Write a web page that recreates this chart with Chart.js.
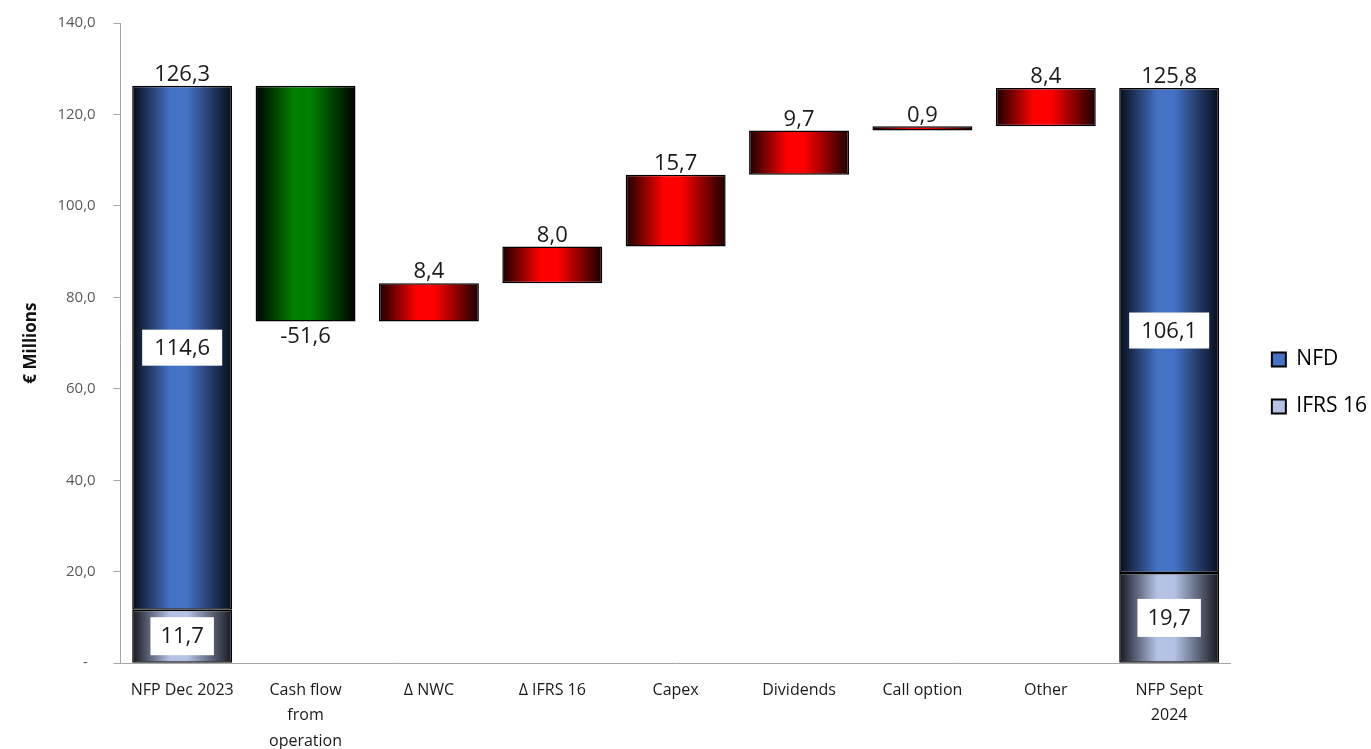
<!DOCTYPE html>
<html>
<head>
<meta charset="utf-8">
<title>NFP bridge</title>
<script src="https://cdn.jsdelivr.net/npm/chart.js@4.4.1/dist/chart.umd.min.js"></script>
<style>
  html, body { margin: 0; padding: 0; background: #fff; }
  #wrap { width: 1371px; height: 749px; position: relative; }
</style>
</head>
<body>
<div id="wrap"><canvas id="bridge"></canvas></div>
<script>
// categories on the x axis (arrays = multi-line labels)
const categories = [
  'NFP Dec 2023',
  ['Cash flow', 'from', 'operation'],
  'Δ NWC',
  'Δ IFRS 16',
  'Capex',
  'Dividends',
  'Call option',
  'Other',
  ['NFP Sept', '2024']
];

// opening / closing position split
const nfdValues  = [114.6, null, null, null, null, null, null, null, 106.1];
const ifrsValues = [11.7,  null, null, null, null, null, null, null, 19.7];

// movements between the two positions
const movements = [null, -51.6, 8.4, 8.0, 15.7, 9.7, 0.9, 8.4, null];

const FONT = "'Open Sans', 'Liberation Sans', sans-serif";
const BAR_PCT = 0.81;
const LEGEND_GAP = 15;
const LEGEND_TRIM = 6;
const LEGEND_RAISE = 5;

function fmt(v) {
  return v.toFixed(1).replace('.', ',');
}

// running total -> floating bars for the waterfall
let running = 0;
const steps = categories.map(function (c, i) {
  if (nfdValues[i] !== null) {
    running = nfdValues[i] + ifrsValues[i];
    return null;
  }
  const start = running;
  running = Math.round((running + movements[i]) * 10) / 10;
  return [start, running];
});

// horizontal "cylinder" gradient across one bar
function barGradient(ctx, edge, mid) {
  const chart = ctx.chart;
  const xs = chart.scales && chart.scales.x;
  if (!xs || ctx.type !== 'data') return mid;
  const cx = xs.getPixelForValue(ctx.dataIndex);
  const w = xs.width / categories.length * BAR_PCT;
  const g = chart.ctx.createLinearGradient(cx - w / 2, 0, cx + w / 2, 0);
  g.addColorStop(0, edge);
  g.addColorStop(0.38, mid);
  g.addColorStop(0.55, mid);
  g.addColorStop(1, edge);
  return g;
}

// value labels: totals above, white boxes inside, deltas above/below
const valueLabels = {
  id: 'valueLabels',
  afterDatasetsDraw(chart) {
    const c = chart.ctx;
    c.save();
    c.font = '22px ' + FONT;
    c.textAlign = 'center';
    c.fillStyle = '#1a1a1a';

    const nfdMeta = chart.getDatasetMeta(0);
    const ifrsMeta = chart.getDatasetMeta(1);
    const stepMeta = chart.getDatasetMeta(2);

    function boxed(text, x, y, padX, h) {
      const w = c.measureText(text).width + padX * 2;
      c.fillStyle = '#ffffff';
      c.fillRect(x - w / 2, y - h / 2, w, h);
      c.fillStyle = '#1a1a1a';
      c.textBaseline = 'middle';
      c.fillText(text, x, y + 1);
    }

    categories.forEach(function (cat, i) {
      if (nfdValues[i] !== null) {
        const top = nfdMeta.data[i];
        const low = ifrsMeta.data[i];
        c.textBaseline = 'bottom';
        c.fillText(fmt(nfdValues[i] + ifrsValues[i]), top.x, top.y);
        boxed(fmt(nfdValues[i]), top.x, (top.y + top.base) / 2, 12, 36);
        boxed(fmt(ifrsValues[i]), low.x, (low.y + low.base) / 2, 10, 38);
      } else {
        const el = stepMeta.data[i];
        const hi = Math.min(el.y, el.base);
        const lo = Math.max(el.y, el.base);
        if (movements[i] < 0) {
          c.textBaseline = 'top';
          c.fillText(fmt(movements[i]), el.x, lo + 4);
        } else {
          c.textBaseline = 'bottom';
          c.fillText(fmt(movements[i]), el.x, hi);
        }
      }
    });
    c.restore();
  }
};

// a bit more air between the plot and the legend, items sit slightly higher
const legendGap = {
  id: 'legendGap',
  afterInit(chart) {
    const legend = chart.legend;
    if (!legend) return;
    const fit = legend.fit;
    const draw = legend.draw;
    legend.fit = function () {
      fit.call(this);
      this.width += LEGEND_GAP - LEGEND_TRIM;
    };
    legend.draw = function () {
      this.left += LEGEND_GAP;
      this.top -= LEGEND_RAISE;
      this.bottom -= LEGEND_RAISE;
      draw.call(this);
      this.left -= LEGEND_GAP;
      this.top += LEGEND_RAISE;
      this.bottom += LEGEND_RAISE;
    };
  }
};

const common = {
  grouped: false,
  borderColor: '#000000',
  borderWidth: 1.5,
  borderSkipped: false,
  categoryPercentage: 1,
  barPercentage: BAR_PCT
};

new Chart(document.getElementById('bridge'), {
  type: 'bar',
  data: {
    labels: categories,
    datasets: [
      Object.assign({
        label: 'NFD',
        data: nfdValues.map(function (v, i) { return v === null ? null : [ifrsValues[i], ifrsValues[i] + v]; }),
        backgroundColor: function (ctx) { return barGradient(ctx, '#070c18', '#4472c4'); }
      }, common),
      Object.assign({
        label: 'IFRS 16',
        data: ifrsValues.map(function (v) { return v === null ? null : [0, v]; }),
        backgroundColor: function (ctx) { return barGradient(ctx, '#15161e', '#b4c2e6'); }
      }, common),
      Object.assign({
        label: 'Movements',
        data: steps,
        backgroundColor: function (ctx) {
          if (movements[ctx.dataIndex] < 0) return barGradient(ctx, '#000000', '#008000');
          return barGradient(ctx, '#1a0000', '#ff0000');
        }
      }, common)
    ]
  },
  options: {
    responsive: true,
    maintainAspectRatio: false,
    animation: false,
    layout: { padding: { top: 8, left: 21, right: 0, bottom: -19 } },
    plugins: {
      tooltip: { enabled: false },
      legend: {
        position: 'right',
        align: 'center',
        labels: {
          boxWidth: 14,
          boxHeight: 14,
          padding: 26,
          color: '#1a1a1a',
          font: { family: FONT, size: 21 },
          generateLabels: function () {
            return [
              { text: 'NFD', fillStyle: '#4472c4', strokeStyle: '#000', lineWidth: 2, datasetIndex: 0 },
              { text: 'IFRS 16', fillStyle: '#b4c2e6', strokeStyle: '#000', lineWidth: 2, datasetIndex: 1 }
            ];
          }
        }
      }
    },
    scales: {
      x: {
        grid: { display: false, drawTicks: false },
        border: { color: '#a6a6a6', width: 1 },
        ticks: {
          color: '#1a1a1a',
          font: { family: FONT, size: 16, lineHeight: 1.6 },
          maxRotation: 0,
          autoSkip: false,
          padding: 14
        }
      },
      y: {
        min: 0,
        max: 140,
        ticks: {
          stepSize: 20,
          color: '#595959',
          font: { family: FONT, size: 15 },
          padding: 14,
          // accounting-style labels: trailing blank, dash for zero
          callback: function (v) { return v === 0 ? '-   ' : fmt(v) + ' '; }
        },
        grid: { drawOnChartArea: false, drawTicks: true, tickLength: 7, color: '#a6a6a6' },
        border: { color: '#a6a6a6', width: 1 },
        title: {
          display: true,
          text: '€ Millions',
          color: '#111111',
          font: { family: FONT, size: 17, weight: 'bold' },
          padding: { top: 0, bottom: 2 }
        }
      }
    }
  },
  plugins: [valueLabels, legendGap]
});
</script>
</body>
</html>
